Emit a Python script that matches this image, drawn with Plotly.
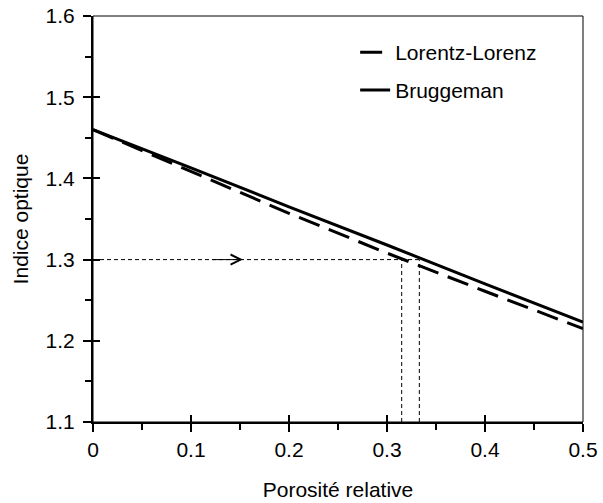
import plotly.graph_objects as go

porosity = [0.0, 0.1, 0.2, 0.3, 0.4, 0.5]
n_lorentz = [1.460, 1.408, 1.357, 1.308, 1.261, 1.215]
n_bruggeman = [1.460, 1.413, 1.365, 1.318, 1.270, 1.223]

n_target = 1.3
p_lorentz_at_target = 0.315
p_bruggeman_at_target = 0.333
arrow_from, arrow_to = 0.12, 0.153

x_range = [0, 0.5]
y_range = [1.1, 1.6]
x_tickvals = [0, 0.1, 0.2, 0.3, 0.4, 0.5]
x_ticktext = ["0", "0.1", "0.2", "0.3", "0.4", "0.5"]
y_tickvals = [1.1, 1.2, 1.3, 1.4, 1.5, 1.6]
y_ticktext = ["1.1", "1.2", "1.3", "1.4", "1.5", "1.6"]

FONT = "Liberation Sans, Arial, sans-serif"
fs = 21

fig = go.Figure()

# guide lines
fig.add_trace(go.Scatter(
    x=[0, p_bruggeman_at_target, None, p_lorentz_at_target, p_lorentz_at_target, None,
       p_bruggeman_at_target, p_bruggeman_at_target],
    y=[n_target, n_target, None, y_range[0], n_target, None, y_range[0], n_target],
    mode="lines", line=dict(color="black", width=1, dash="4px,3px"),
    showlegend=False, hoverinfo="skip"))

fig.add_trace(go.Scatter(
    x=porosity, y=n_lorentz, mode="lines", name="Lorentz-Lorenz",
    line=dict(color="black", width=3, dash="22px,10px"), legend="legend"))
fig.add_trace(go.Scatter(
    x=porosity, y=n_bruggeman, mode="lines", name="Bruggeman",
    line=dict(color="black", width=3), legend="legend2"))

# dummy trace for overlay axes (inside ticks)
fig.add_trace(go.Scatter(x=[None], y=[None], xaxis="x2", yaxis="y2",
                         showlegend=False, hoverinfo="skip"))

fig.add_annotation(x=arrow_to, y=n_target, ax=arrow_from, ay=n_target,
                   xref="x", yref="y", axref="x", ayref="y",
                   showarrow=True, arrowhead=5, arrowsize=2, arrowwidth=1,
                   arrowcolor="black", text="")

# thin frame (top and right edges)
fig.add_shape(type="rect", xref="paper", yref="paper", x0=0, x1=1, y0=0, y1=1,
              line=dict(color="black", width=1), layer="above")

common_font = dict(family=FONT, size=fs, color="black")

fig.update_layout(
    width=603, height=503,
    margin=dict(l=93, r=20, t=16, b=81, autoexpand=False),
    plot_bgcolor="white", paper_bgcolor="white",
    font=common_font,
    xaxis=dict(range=x_range, tickvals=x_tickvals, ticktext=x_ticktext,
               showgrid=False, zeroline=False, showline=True, linewidth=2,
               linecolor="black", ticks="outside", ticklen=8, tickwidth=2,
               tickcolor="black", ticklabelstandoff=0, automargin=False,
               minor=dict(dtick=0.05, ticks="outside", ticklen=6, tickwidth=2,
                          tickcolor="black", showgrid=False),
               title=dict(text="Porosité relative", font=common_font, standoff=22)),
    yaxis=dict(range=y_range, tickvals=y_tickvals, ticktext=y_ticktext,
               showgrid=False, zeroline=False, showline=True, linewidth=2,
               linecolor="black", ticks="outside", ticklen=8, tickwidth=2,
               tickcolor="black", ticklabelstandoff=4, automargin=False,
               minor=dict(dtick=0.05, ticks="outside", ticklen=6, tickwidth=2,
                          tickcolor="black", showgrid=False),
               title=dict(text="Indice optique", font=common_font, standoff=11)),
    xaxis2=dict(range=x_range, overlaying="x", anchor="y2", tickvals=x_tickvals,
                showticklabels=False, showgrid=False, zeroline=False, automargin=False,
                showline=False, ticks="inside", ticklen=7, tickwidth=2, tickcolor="black"),
    yaxis2=dict(range=y_range, overlaying="y", anchor="x2", tickvals=y_tickvals,
                showticklabels=False, showgrid=False, zeroline=False, automargin=False,
                showline=False, ticks="inside", ticklen=7, tickwidth=2, tickcolor="black"),
    legend=dict(x=0.535, y=0.91, xanchor="left", yanchor="middle",
                bgcolor="rgba(0,0,0,0)", font=common_font),
    legend2=dict(x=0.535, y=0.817, xanchor="left", yanchor="middle",
                 bgcolor="rgba(0,0,0,0)", font=common_font),
    showlegend=True,
)

fig.write_html("out.html", config={"displayModeBar": False},
               post_script="document.body.style.margin='0px';document.body.style.overflow='hidden';")
